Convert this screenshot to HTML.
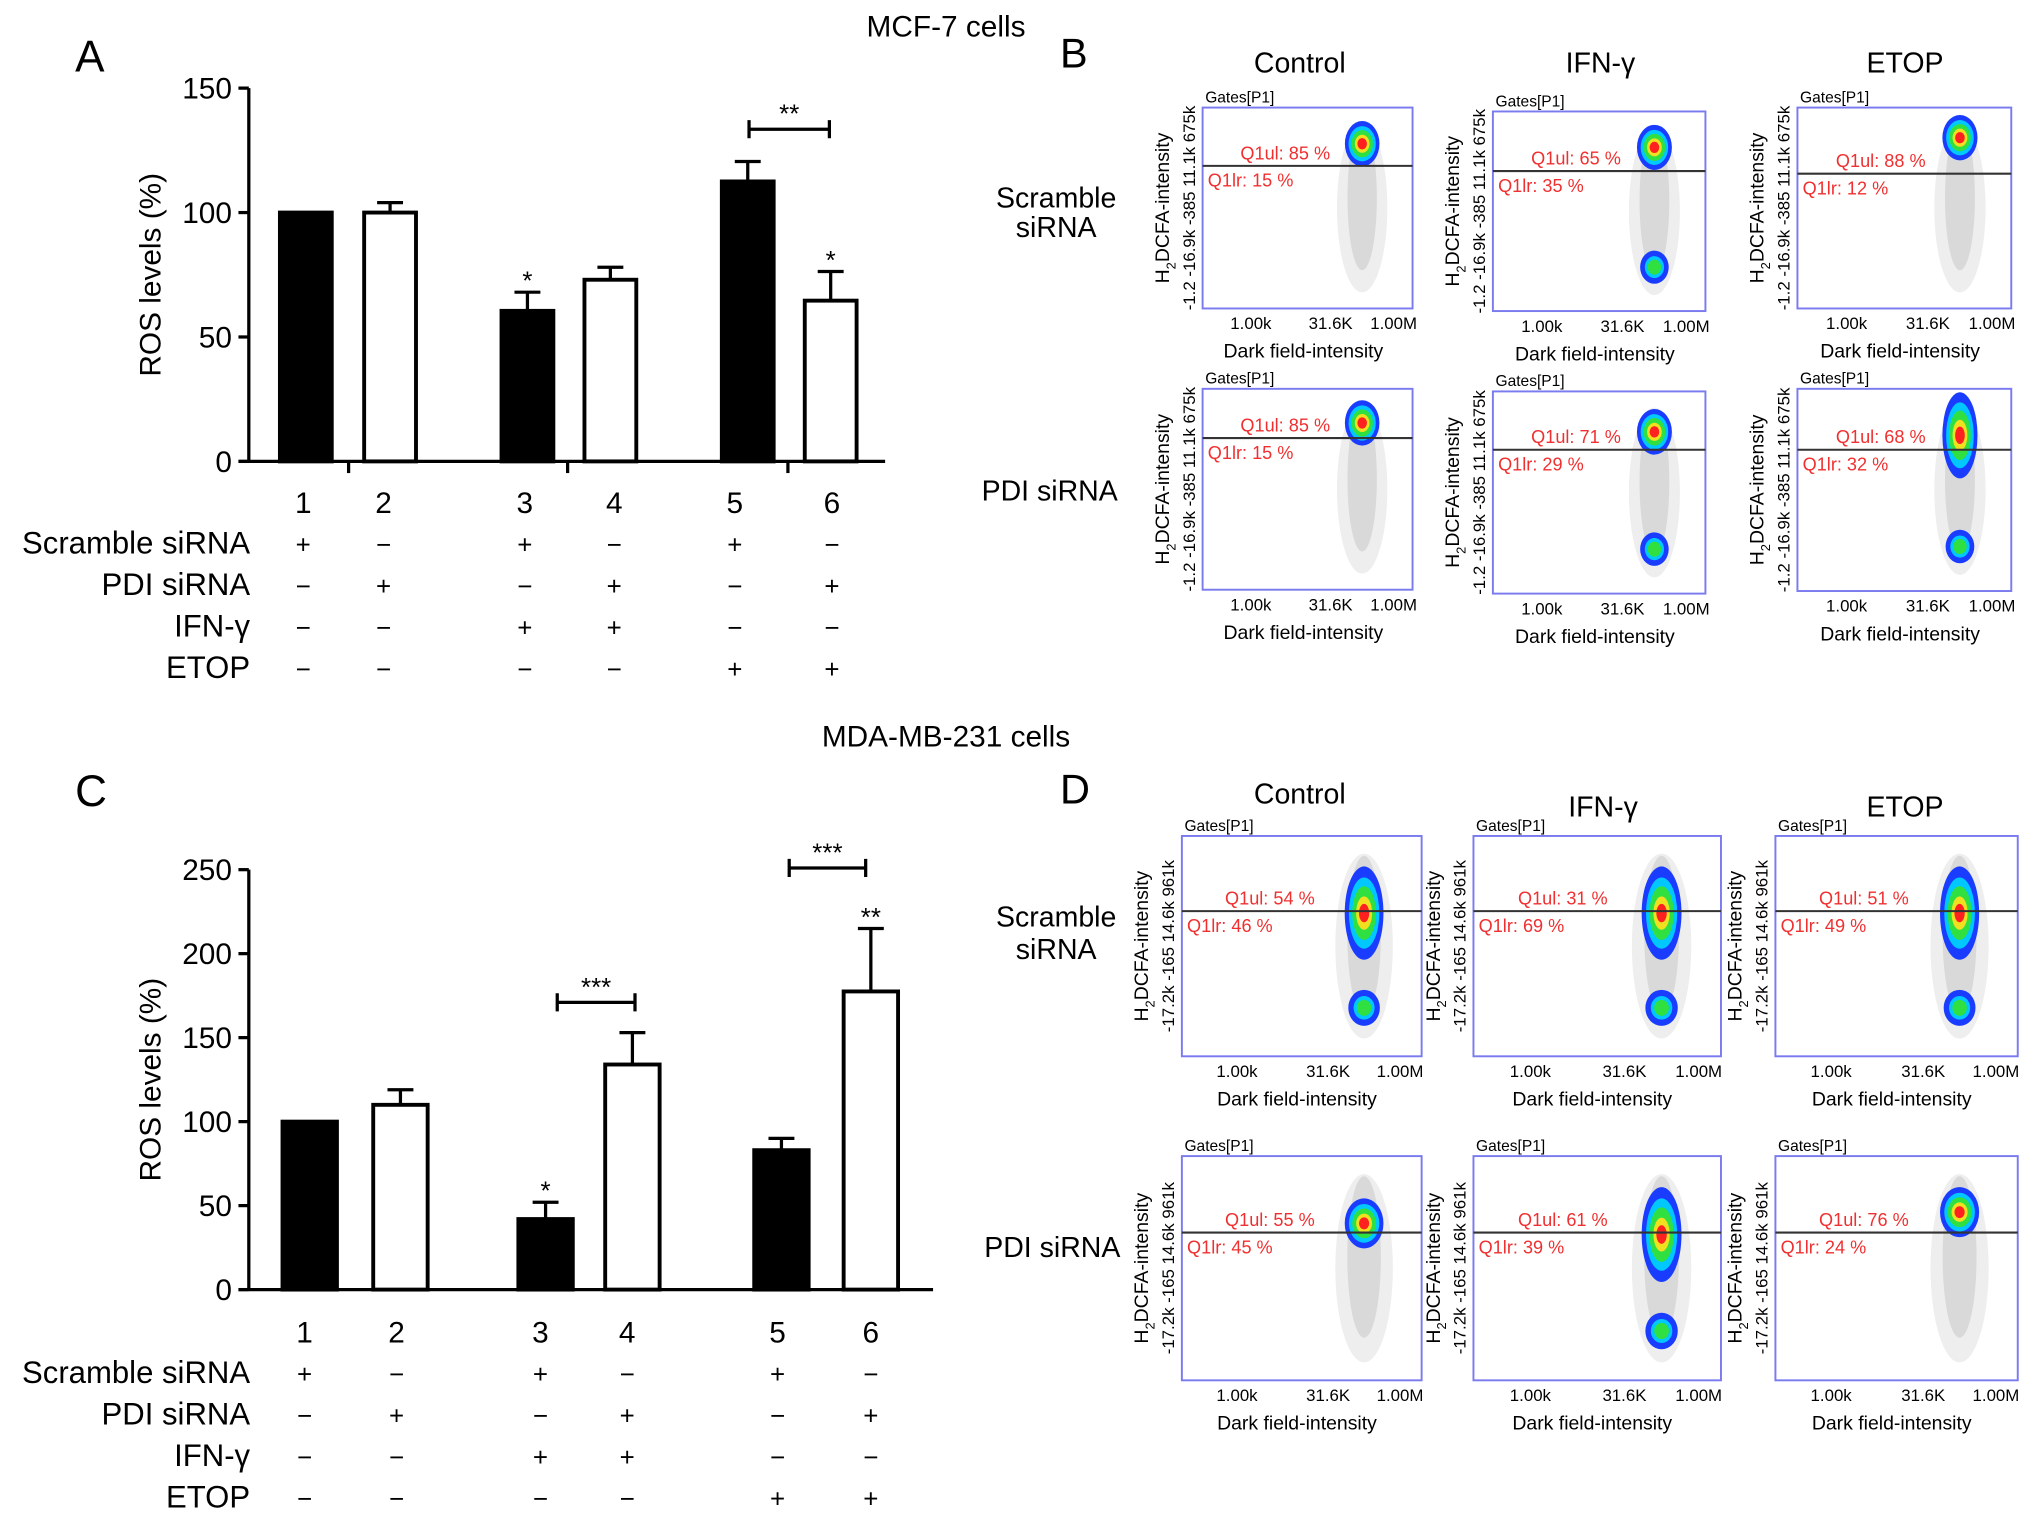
<!DOCTYPE html>
<html><head><meta charset="utf-8"><style>
html,body{margin:0;padding:0;background:#fff}
svg{display:block}
text{font-family:"Liberation Sans",Arial,sans-serif}
</style></head><body>
<svg id="fig" width="2032" height="1519" viewBox="0 0 1568 1172" preserveAspectRatio="none" xmlns="http://www.w3.org/2000/svg">
<rect width="1568" height="1172" fill="#fff"/>
<text x="730" y="28" font-size="23" text-anchor="middle">MCF-7 cells</text>
<text x="730" y="576" font-size="23" text-anchor="middle">MDA-MB-231 cells</text>
<text x="58" y="55" font-size="34">A</text>
<text x="818" y="52" font-size="32">B</text>
<text x="58" y="622" font-size="34">C</text>
<text x="818" y="620" font-size="32">D</text>
<g id="chartA"></g><g id="chartC"></g><g id="flow"></g>
</svg>
<script>
const NS="http://www.w3.org/2000/svg";
function mk(p,tag,at,txt){const e=document.createElementNS(NS,tag);for(const k in at)e.setAttribute(k,at[k]);if(txt!==undefined)e.textContent=txt;p.appendChild(e);return e;}

// ---- Panel A data ----
const catsA=["1","2","3","4","5","6"];
const valsA=[100,100,60.5,73,112.5,64.6];
const errA=[0,4,7.5,5,8,11.7];
const fillA=["#000","#fff","#000","#fff","#000","#fff"];
const starsA=["","","*","","","*"];
const ticksA=[0,50,100,150];
// ---- Panel C data ----
const catsC=["1","2","3","4","5","6"];
const valsC=[100,110,42,134,83,177.5];
const errC=[0,9,10,19,7,37.5];
const fillC=["#000","#fff","#000","#fff","#000","#fff"];
const starsC=["","","*","","","**"];
const ticksC=[0,50,100,150,200,250];
const condRows=["Scramble siRNA","PDI siRNA","IFN-\u03b3","ETOP"];
const condSigns=[["+","\u2212","+","\u2212","+","\u2212"],["\u2212","+","\u2212","+","\u2212","+"],["\u2212","\u2212","+","+","\u2212","\u2212"],["\u2212","\u2212","\u2212","\u2212","+","+"]];

function bar(g,cfg){
  const {vals,err,fills,stars,ticks,cats,ymax,y0,yTop,axX,axR,barL,barW,colX,numY,rowY,ticksX,brackets,name}=cfg;
  const y=v=>y0-(v/ymax)*(y0-yTop);
  mk(g,"line",{x1:axX,y1:yTop,x2:axX,y2:y0+1,stroke:"#000","stroke-width":2.5});
  mk(g,"line",{x1:axX-8,y1:y0,x2:axR,y2:y0,stroke:"#000","stroke-width":2.5});
  ticksX.forEach(tx=>{mk(g,"line",{x1:tx,y1:y0,x2:tx,y2:y0+9,stroke:"#000","stroke-width":2.5});});
  ticks.forEach(t=>{
    mk(g,"line",{x1:axX-8,y1:y(t),x2:axX,y2:y(t),stroke:"#000","stroke-width":2.5});
    const tt=mk(g,"text",{x:axX-13,y:y(t)+8,"font-size":23,"text-anchor":"end"},String(t));
    
    
  });
  const yl=mk(g,"text",{x:0,y:0,"font-size":23,"text-anchor":"middle",transform:`translate(${axX-68},${(y0+yTop)/2}) rotate(-90)`},"ROS levels (%)");
  
  
  vals.forEach((v,i)=>{
    const x=barL[i];
    if(err[i]>0){
      mk(g,"line",{x1:x+barW/2,y1:y(v),x2:x+barW/2,y2:y(v+err[i]),stroke:"#000","stroke-width":2.5});
      mk(g,"line",{x1:x+barW/2-10,y1:y(v+err[i]),x2:x+barW/2+10,y2:y(v+err[i]),stroke:"#000","stroke-width":2.5});
    }
    const r=mk(g,"rect",{x:x,y:y(v),width:barW,height:y0-y(v),fill:fills[i],stroke:"#000","stroke-width":3});
    
    
    if(stars[i]){const s=mk(g,"text",{x:x+barW/2,y:y(v+err[i])-2,"font-size":20,"text-anchor":"middle"},stars[i]);
      
      }
    const n=mk(g,"text",{x:colX[i],y:numY,"font-size":23,"text-anchor":"middle"},cats[i]);
    
    
  });
  brackets.forEach(b=>{
    const by=y(b.v);
    mk(g,"path",{d:`M${b.x1},${by-7}V${by+7}M${b.x1},${by}H${b.x2}M${b.x2},${by-7}V${by+7}`,stroke:"#000","stroke-width":2.5,fill:"none"});
    const s=mk(g,"text",{x:(b.x1+b.x2)/2,y:by-5,"font-size":20,"text-anchor":"middle"},b.s);
    
    
  });
  condRows.forEach((lab,r)=>{
    const t=mk(g,"text",{x:193,y:rowY[r]+8,"font-size":24,"text-anchor":"end"},lab);
    
    
    condSigns[r].forEach((s,i)=>{mk(g,"text",{x:colX[i],y:rowY[r]+8,"font-size":20,"text-anchor":"middle"},s);});
  });
}
bar(document.getElementById("chartA"),{vals:valsA,err:errA,fills:fillA,stars:starsA,ticks:ticksA,cats:catsA,ymax:150,y0:356,yTop:68,axX:192,axR:683,
  barL:[216,281,387,451,557,621],barW:40,colX:[234,296,405,474,567,642],numY:396,rowY:[419,451,483,515],ticksX:[269,438,608],
  brackets:[{x1:578,x2:640,v:133.5,s:"**"}],name:"chart-a"});
bar(document.getElementById("chartC"),{vals:valsC,err:errC,fills:fillC,stars:starsC,ticks:ticksC,cats:catsC,ymax:250,y0:995,yTop:671,axX:192,axR:720,
  barL:[218,288,400,467,582,651],barW:42,colX:[235,306,417,484,600,672],numY:1036,rowY:[1059,1091,1123,1155],ticksX:[],
  brackets:[{x1:430,x2:490,v:171,s:"***"},{x1:609,x2:668,v:251,s:"***"}],name:"chart-c"});

// ---- Flow plots ----
const flowPlots=[
 {x:928,y:83,w:162,h:155,th:128,ul:"85",lr:"15",yt:"-1.2 -16.9k -385 11.1k 675k",cy:0.18,low:1},
 {x:1152,y:86,w:164,h:154,th:132,ul:"65",lr:"35",yt:"-1.2 -16.9k -385 11.1k 675k",cy:0.18,low:2},
 {x:1387,y:83,w:165,h:155,th:134,ul:"88",lr:"12",yt:"-1.2 -16.9k -385 11.1k 675k",cy:0.15,low:1},
 {x:928,y:300,w:162,h:155,th:338,ul:"85",lr:"15",yt:"-1.2 -16.9k -385 11.1k 675k",cy:0.17,low:1},
 {x:1152,y:302,w:164,h:156,th:347,ul:"71",lr:"29",yt:"-1.2 -16.9k -385 11.1k 675k",cy:0.2,low:2},
 {x:1387,y:300,w:165,h:156,th:347,ul:"68",lr:"32",yt:"-1.2 -16.9k -385 11.1k 675k",cy:0.18,low:3},
 {x:912,y:645,w:185,h:170,th:703,ul:"54",lr:"46",yt:"-17.2k -165 14.6k 961k",cy:0.3,low:3},
 {x:1137,y:645,w:191,h:170,th:703,ul:"31",lr:"69",yt:"-17.2k -165 14.6k 961k",cy:0.3,low:3},
 {x:1370,y:645,w:187,h:170,th:703,ul:"51",lr:"49",yt:"-17.2k -165 14.6k 961k",cy:0.3,low:3},
 {x:912,y:892,w:185,h:173,th:951,ul:"55",lr:"45",yt:"-17.2k -165 14.6k 961k",cy:0.3,low:1},
 {x:1137,y:892,w:191,h:173,th:951,ul:"61",lr:"39",yt:"-17.2k -165 14.6k 961k",cy:0.3,low:3},
 {x:1370,y:892,w:187,h:173,th:951,ul:"76",lr:"24",yt:"-17.2k -165 14.6k 961k",cy:0.25,low:1}
];
const fg=document.getElementById("flow");
flowPlots.forEach((p,i)=>{
  const g=mk(fg,"g",{});
  
  
  const cx=p.x+p.w*0.76;
  mk(g,"ellipse",{cx:cx,cy:p.y+p.h*0.5,rx:p.w*0.12,ry:p.h*0.42,fill:"#aaa","fill-opacity":0.2});
  mk(g,"ellipse",{cx:cx,cy:p.y+p.h*0.45,rx:p.w*0.07,ry:p.h*0.36,fill:"#888","fill-opacity":0.2});
  const big=p.low>=3;
  const cyy=p.y+p.h*p.cy;
  const layers=[["#1a3cff",1],["#00c8ff",0.75],["#30e040",0.55],["#f0e020",0.32],["#ff2020",0.15]];
  layers.forEach(([c,s])=>{mk(g,"ellipse",{cx:cx,cy:cyy+(big?p.h*0.05:0),rx:p.w*0.07*s+2,ry:(big?p.h*0.2:p.h*0.1)*s+2,fill:c});});
  if(p.low>1){
    const ly=p.y+p.h*0.78;
    [["#1a3cff",1],["#00c8ff",0.6],["#30e040",0.35]].forEach(([c,s])=>{mk(g,"ellipse",{cx:cx,cy:ly,rx:p.w*0.055*s+2,ry:p.h*0.07*s+2,fill:c});});
  }
  mk(g,"rect",{x:p.x,y:p.y,width:p.w,height:p.h,fill:"none",stroke:"#7b7bf0","stroke-width":1.5});
  mk(g,"line",{x1:p.x,y1:p.th,x2:p.x+p.w,y2:p.th,stroke:"#333","stroke-width":1.6});
  mk(g,"text",{x:p.x+2,y:p.y-4,"font-size":12},"Gates[P1]");
  mk(g,"text",{x:p.x+p.w*0.18,y:p.th-5,"font-size":14,fill:"#f03030"},"Q1ul: "+p.ul+" %");
  mk(g,"text",{x:p.x+4,y:p.th+16,"font-size":14,fill:"#f03030"},"Q1lr: "+p.lr+" %");
  mk(g,"text",{x:p.x+p.w*0.23,y:p.y+p.h+16,"font-size":13,"text-anchor":"middle"},"1.00k");
  mk(g,"text",{x:p.x+p.w*0.61,y:p.y+p.h+16,"font-size":13,"text-anchor":"middle"},"31.6K");
  mk(g,"text",{x:p.x+p.w*0.91,y:p.y+p.h+16,"font-size":13,"text-anchor":"middle"},"1.00M");
  const xt=mk(g,"text",{x:p.x+p.w*0.48,y:p.y+p.h+38,"font-size":15,"text-anchor":"middle"},"Dark field-intensity");
  
  
  mk(g,"text",{x:0,y:0,"font-size":13,"text-anchor":"middle",transform:`translate(${p.x-6},${p.y+p.h/2}) rotate(-90)`},p.yt);
  const yt=mk(g,"text",{x:0,y:0,"font-size":15,"text-anchor":"middle",transform:`translate(${p.x-26},${p.y+p.h/2}) rotate(-90)`});
  
  
  mk(yt,"tspan",{},"H");
  mk(yt,"tspan",{"font-size":10,dy:5},"2");
  mk(yt,"tspan",{dy:-5},"DCFA-intensity");
});
const heads=[["Control",1003,56],["IFN-\u03b3",1235,56],["ETOP",1470,56],["Control",1003,620],["IFN-\u03b3",1237,630],["ETOP",1470,630]];
heads.forEach(h=>{const t=mk(fg,"text",{x:h[1],y:h[2],"font-size":22,"text-anchor":"middle"},h[0]);
  
  });
const rl=[["Scramble",815,160],["siRNA",815,183],["PDI siRNA",810,386],["Scramble",815,715],["siRNA",815,740],["PDI siRNA",812,970]];
rl.forEach(h=>{const t=mk(fg,"text",{x:h[1],y:h[2],"font-size":22,"text-anchor":"middle"},h[0]);
  
  });
</script>
</body></html>
